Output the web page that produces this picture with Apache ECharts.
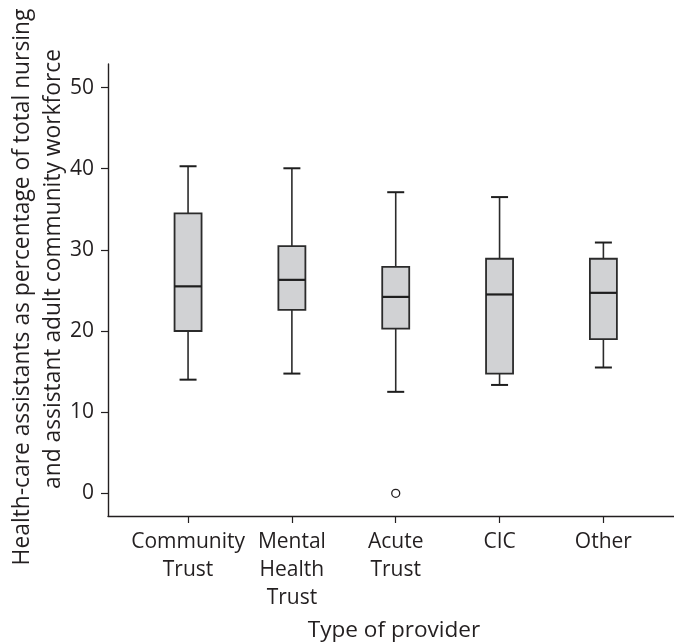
<!DOCTYPE html>
<html>
<head>
<meta charset="utf-8">
<script src="https://cdn.jsdelivr.net/npm/echarts@6/dist/echarts.min.js"></script>
<style>
html,body{margin:0;padding:0;background:#fff;}
#chart{width:674px;height:642px;}
</style>
</head>
<body>
<div id="chart"></div>
<script>
const categories = ['Community\nTrust', 'Mental\nHealth\nTrust', 'Acute\nTrust', 'CIC', 'Other'];
const mins    = [14.0, 14.75, 12.5, 13.35, 15.5];
const q1s     = [20.0, 22.6, 20.3, 14.75, 19.0];
const medians = [25.5, 26.3, 24.2, 24.5, 24.7];
const q3s     = [34.5, 30.45, 27.9, 28.9, 28.9];
const maxs    = [40.3, 40.05, 37.1, 36.5, 30.9];
const outliers = [[2, 0]];
const yTicks = [0, 10, 20, 30, 40, 50];
const xTicks = [0, 1, 2, 3, 4];

const FONT = 'Open Sans';
const INK = '#231f20';

const boxData = categories.map((c, i) => [i, mins[i], q1s[i], medians[i], q3s[i], maxs[i]]);

const chart = echarts.init(document.getElementById('chart'), null, {renderer: 'canvas'});

function renderBox(params, api) {
  const x = api.value(0);
  const pMin = api.coord([x, api.value(1)]);
  const pQ1 = api.coord([x, api.value(2)]);
  const pMed = api.coord([x, api.value(3)]);
  const pQ3 = api.coord([x, api.value(4)]);
  const pMax = api.coord([x, api.value(5)]);
  const cx = pMin[0];
  const hw = 13.5, cw = 8.5;
  const lineStyle = {stroke: '#2b2b2b', lineWidth: 1.6, fill: null};
  return {
    type: 'group',
    children: [
      {type: 'line', shape: {x1: cx, y1: pQ3[1], x2: cx, y2: pMax[1]}, style: lineStyle},
      {type: 'line', shape: {x1: cx, y1: pQ1[1], x2: cx, y2: pMin[1]}, style: lineStyle},
      {type: 'line', shape: {x1: cx - cw, y1: pMax[1], x2: cx + cw, y2: pMax[1]}, style: {stroke: '#1e1e1e', lineWidth: 2}},
      {type: 'line', shape: {x1: cx - cw, y1: pMin[1], x2: cx + cw, y2: pMin[1]}, style: {stroke: '#1e1e1e', lineWidth: 2}},
      {type: 'rect', shape: {x: cx - hw, y: pQ3[1], width: 2 * hw, height: pQ1[1] - pQ3[1]},
        style: {fill: '#d1d2d4', stroke: '#2b2b2b', lineWidth: 1.8}},
      {type: 'line', shape: {x1: cx - hw, y1: pMed[1], x2: cx + hw, y2: pMed[1]}, style: {stroke: '#1e1e1e', lineWidth: 2.2}}
    ]
  };
}

chart.setOption({
  animation: false,
  backgroundColor: '#fff',
  grid: {left: 108, right: 0, top: 64, bottom: 126, containLabel: false},
  xAxis: {
    type: 'value', min: -0.771, max: 4.68,
    axisLine: {show: true, onZero: false, lineStyle: {color: INK, width: 1.4}},
    axisTick: {show: true, length: 7, customValues: xTicks, lineStyle: {color: INK, width: 1.2}},
    axisLabel: {
      customValues: xTicks, margin: 12,
      formatter: v => categories[Math.round(v)] || '',
      fontFamily: FONT, fontSize: 21, color: INK, lineHeight: 28
    },
    splitLine: {show: false}
  },
  yAxis: {
    type: 'value', min: -2.8, max: 52.9,
    axisLine: {show: true, onZero: false, lineStyle: {color: INK, width: 1.4}},
    axisTick: {show: true, length: 7, customValues: yTicks, lineStyle: {color: INK, width: 1.2}},
    axisLabel: {customValues: yTicks, margin: 14, fontFamily: FONT, fontSize: 21, color: INK},
    splitLine: {show: false}
  },
  series: [
    {
      type: 'custom',
      renderItem: renderBox,
      data: boxData,
      encode: {x: 0, y: [1, 2, 3, 4, 5]},
      clip: false
    },
    {
      type: 'scatter',
      data: outliers,
      symbol: 'circle',
      symbolSize: 8,
      itemStyle: {color: '#fff', borderColor: INK, borderWidth: 1.3, opacity: 1}
    }
  ],
  graphic: [
    {type: 'text', x: 23, y: 287, rotation: Math.PI / 2,
      style: {text: 'Health-care assistants as percentage of total nursing', font: '22.8px "' + FONT + '"', fill: INK, align: 'center', verticalAlign: 'middle'}},
    {type: 'text', x: 54, y: 269, rotation: Math.PI / 2,
      style: {text: 'and assistant adult community workforce', font: '22.8px "' + FONT + '"', fill: INK, align: 'center', verticalAlign: 'middle'}},
    {type: 'text', x: 394, y: 631,
      style: {text: 'Type of provider', font: '22.6px "' + FONT + '"', fill: INK, align: 'center', verticalAlign: 'middle'}}
  ]
});
</script>
</body>
</html>
